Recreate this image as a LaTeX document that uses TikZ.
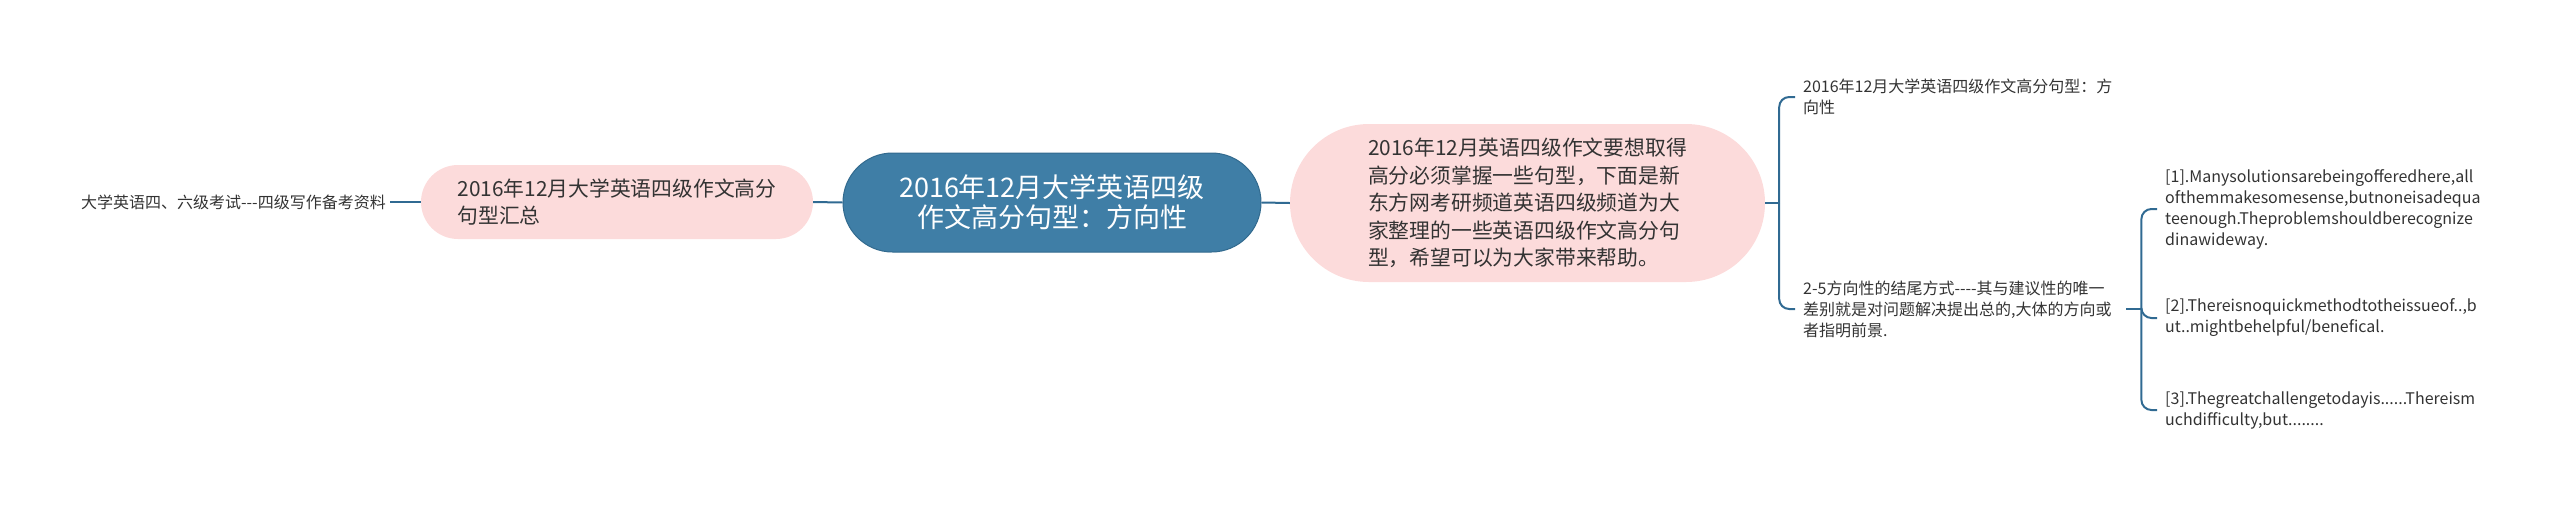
\documentclass[tikz,border=0pt]{standalone}
\usepackage{fontspec}
\setmainfont{Noto Sans CJK SC}
\usetikzlibrary{shapes.misc}

\begin{document}
\begin{tikzpicture}[x=1pt, y=-1pt,
    topic/.style={rounded rectangle, fill=topicblue, draw=topicedge, line width=1pt,
        text=white, align=center, inner sep=0pt, font=\fontsize{27}{30}\selectfont},
    sub/.style={rounded rectangle, fill=subpink, align=left, inner sep=0pt,
        text=textgray, font=\fontsize{20.8}{27.5}\selectfont},
    leaf/.style={align=left, text=textgray, inner xsep=8pt, inner ysep=2pt,
        font=\fontsize{16}{21}\selectfont},
    link/.style={draw=linkblue, line width=2pt, rounded corners=10pt}]
    % Define colors
    \definecolor{topicblue}{RGB}{63,126,166}
    \definecolor{topicedge}{RGB}{50,106,142}
    \definecolor{subpink}{RGB}{252,219,219}
    \definecolor{linkblue}{RGB}{48,106,146}
    \definecolor{textgray}{RGB}{51,51,51}

    % Fix the page size
    \useasboundingbox (0,0) rectangle (2560,507);

    % Main topic and the two summaries
    \node[topic, minimum width=418, minimum height=99] (topic) at (1052,202.5)
        {2016年12月大学英语四级\\作文高分句型：方向性};
    \node[sub, minimum width=392, minimum height=74] (lsum) at (617,202)
        {2016年12月大学英语四级作文高分\\句型汇总};
    \node[sub, minimum width=475, minimum height=158] (rsum) at (1527.5,203)
        {2016年12月英语四级作文要想取得\\高分必须掌握一些句型，下面是新\\东方网考研频道英语四级频道为大\\家整理的一些英语四级作文高分句\\型，希望可以为大家带来帮助。};

    % Leaves
    \node[leaf, anchor=east, inner xsep=4pt] (lsrc) at (390,202)
        {大学英语四、六级考试-{}-{}-四级写作备考资料};
    \node[leaf, anchor=west] (rtitle) at (1795,97)
        {2016年12月大学英语四级作文高分句型：方\\向性};
    \node[leaf, anchor=west, text width=315] (rend) at (1795,309)
        {2-5方向性的结尾方式-{}-{}-{}-其与建议性的唯一\\差别就是对问题解决提出总的,大体的方向或\\者指明前景.};
    \node[leaf, anchor=west] (ex1) at (2157,209)
        {[1].Manysolutionsarebeingofferedhere,all\\ofthemmakesomesense,butnoneisadequa\\teenough.Theproblemshouldberecognize\\dinawideway.};
    \node[leaf, anchor=west] (ex2) at (2157,318)
        {[2].Thereisnoquickmethodtotheissueof..,b\\ut..mightbehelpful/benefical.};
    \node[leaf, anchor=west] (ex3) at (2157,410)
        {[3].Thegreatchallengetodayis......Thereism\\uchdifficulty,but........};

    % Links
    \draw[link] (topic.west) -- (lsum.east);
    \draw[link] (lsum.west) -- (lsrc.east);
    \draw[link] (topic.east) -- (rsum.west);
    \draw[link] (rsum.east) -- ++(14,0) coordinate (rfork);
    \draw[link] (rfork) |- (rtitle.west);
    \draw[link] (rfork) |- (rend.west);
    \draw[link] (rend.east) -- ++(15,0) coordinate (efork);
    \draw[link] (efork) |- (ex1.west);
    \draw[link] (efork) |- (ex2.west);
    \draw[link] (efork) |- (ex3.west);
\end{tikzpicture}
\end{document}
